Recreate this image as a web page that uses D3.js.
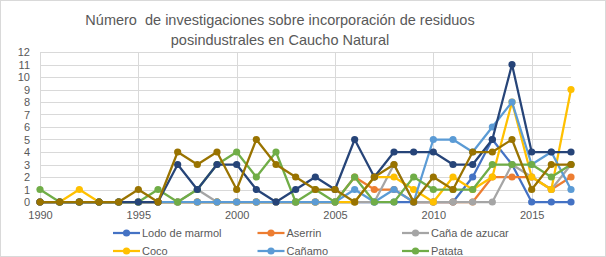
<!DOCTYPE html>
<html>
<head>
<meta charset="utf-8">
<script src="https://cdn.jsdelivr.net/npm/d3@7"></script>
<style>
  body { margin: 0; background: #fff; }
  text { font-family: "Liberation Sans", Arial, sans-serif; }
</style>
</head>
<body>
<div id="chart"></div>
<script>
// years on the x axis
const years = d3.range(1990, 2018)

// series values, one per year (1990..2017)
const lodoMarmol = [0,0,0,0,0,0,0,0,0,0,0,0,0,0,0,0,0,0,0,0,0,0,2,5,3,0,0,0]
const aserrin    = [0,0,0,0,0,0,0,0,0,0,0,0,0,0,0,0,2,1,1,0,0,0,0,2,2,2,1,2]
const canaAzucar = [0,0,0,0,0,0,0,0,1,0,0,0,0,0,0,0,0,0,3,0,0,0,0,0,3,2,1,3]
const coco       = [0,0,1,0,0,0,0,0,0,0,0,0,0,0,0,0,0,2,2,1,0,2,1,2,8,2,1,9]
const canamo     = [0,0,0,0,0,0,0,0,0,0,0,0,0,0,0,0,1,0,1,0,5,5,4,6,8,3,4,1]
const patata     = [1,0,0,0,0,0,1,0,1,3,4,2,4,0,1,0,2,0,0,2,1,1,1,3,3,3,2,3]
const serie7     = [0,0,0,0,0,0,0,3,1,3,3,1,0,1,2,1,5,2,4,4,4,3,3,5,11,4,4,4]
const serie8     = [0,0,0,0,0,1,0,4,3,4,1,5,3,2,1,1,0,2,3,0,2,1,4,4,5,1,3,3]

const seriesNames = ["Lodo de marmol", "Aserrin", "Caña de azucar", "Coco", "Cañamo", "Patata", "Serie7", "Serie8"]
const seriesValues = [lodoMarmol, aserrin, canaAzucar, coco, canamo, patata, serie7, serie8]
const colors = ["#4472C4", "#ED7D31", "#A5A5A5", "#FFC000", "#5B9BD5", "#70AD47", "#264478", "#997300"]
const legendCount = 6

const xTicks = [1990, 1995, 2000, 2005, 2010, 2015]
const yTicks = d3.range(0, 13)

const titleLines = ["Número  de investigaciones sobre incorporación de residuos", "posindustrales en Caucho Natural"]

const W = 606, H = 257
const margin = {top: 52, right: 35, bottom: 55, left: 40}
const width = W - margin.left - margin.right,
      height = H - margin.top - margin.bottom

const svg = d3.select("#chart").append("svg")
    .attr("width", W)
    .attr("height", H)

// outer frame
svg.append("rect")
    .attr("x", 0.5).attr("y", 0.5)
    .attr("width", W - 1).attr("height", H - 1)
    .attr("fill", "#fff")
    .attr("stroke", "#D9D9D9")

// title
svg.append("g").selectAll("text")
    .data(titleLines)
    .enter().append("text")
    .attr("x", 280)
    .attr("y", (d, i) => 25 + i * 20)
    .attr("text-anchor", "middle")
    .attr("fill", "#595959")
    .style("font-size", "14.5px")
    .style("white-space", "pre")
    .text(d => d)

const g = svg.append("g")
    .attr("transform", "translate(" + margin.left + "," + margin.top + ")")

const x = d3.scaleLinear().domain([1990, 2017]).range([0, width])
const y = d3.scaleLinear().domain([0, 12]).range([height, 0])

// horizontal grid
g.append("g").selectAll("line")
    .data(yTicks)
    .enter().append("line")
    .attr("x1", 0).attr("x2", width)
    .attr("y1", d => Math.round(y(d)) + 0.5)
    .attr("y2", d => Math.round(y(d)) + 0.5)
    .attr("stroke", "#D9D9D9")

// vertical grid
g.append("g").selectAll("line")
    .data(xTicks)
    .enter().append("line")
    .attr("x1", d => Math.round(x(d)) + 0.5)
    .attr("x2", d => Math.round(x(d)) + 0.5)
    .attr("y1", 0).attr("y2", height)
    .attr("stroke", "#D9D9D9")

// y axis labels
const yAxis = g.append("g")
    .call(d3.axisLeft(y).tickValues(yTicks).tickSize(0).tickPadding(10))
yAxis.select(".domain").remove()
yAxis.selectAll("text")
    .attr("fill", "#595959")
    .style("font-size", "11px")

// x axis labels
const xAxis = g.append("g")
    .attr("transform", "translate(0," + height + ")")
    .call(d3.axisBottom(x).tickValues(xTicks).tickFormat(d3.format("d")).tickSize(0).tickPadding(9))
xAxis.select(".domain").remove()
xAxis.selectAll("text")
    .attr("fill", "#595959")
    .style("font-size", "11px")

// lines and markers
const line = d3.line()
    .x((d, i) => x(years[i]))
    .y(d => y(d))

seriesValues.forEach(function (vals, s) {
    const sg = g.append("g")
    sg.append("path")
        .datum(vals)
        .attr("d", line)
        .attr("fill", "none")
        .attr("stroke", colors[s])
        .attr("stroke-width", 2.25)
        .attr("stroke-linejoin", "round")
    sg.selectAll("circle")
        .data(vals)
        .enter().append("circle")
        .attr("cx", (d, i) => x(years[i]))
        .attr("cy", d => y(d))
        .attr("r", 3.6)
        .attr("fill", colors[s])
})

// legend (only the first six entries fit)
const legend = svg.append("g")
const items = legend.selectAll("g")
    .data(seriesNames.slice(0, legendCount))
    .enter().append("g")
    .attr("transform", (d, i) => "translate(" + (113 + (i % 3) * 144.5) + "," + (233 + Math.floor(i / 3) * 18) + ")")

items.append("line")
    .attr("x1", 0).attr("x2", 27)
    .attr("stroke", (d, i) => colors[i])
    .attr("stroke-width", 2.25)
items.append("circle")
    .attr("cx", 13.5)
    .attr("r", 3.6)
    .attr("fill", (d, i) => colors[i])
items.append("text")
    .attr("x", 29)
    .attr("dy", "0.35em")
    .attr("fill", "#595959")
    .style("font-size", "11px")
    .text(d => d)
</script>
</body>
</html>
